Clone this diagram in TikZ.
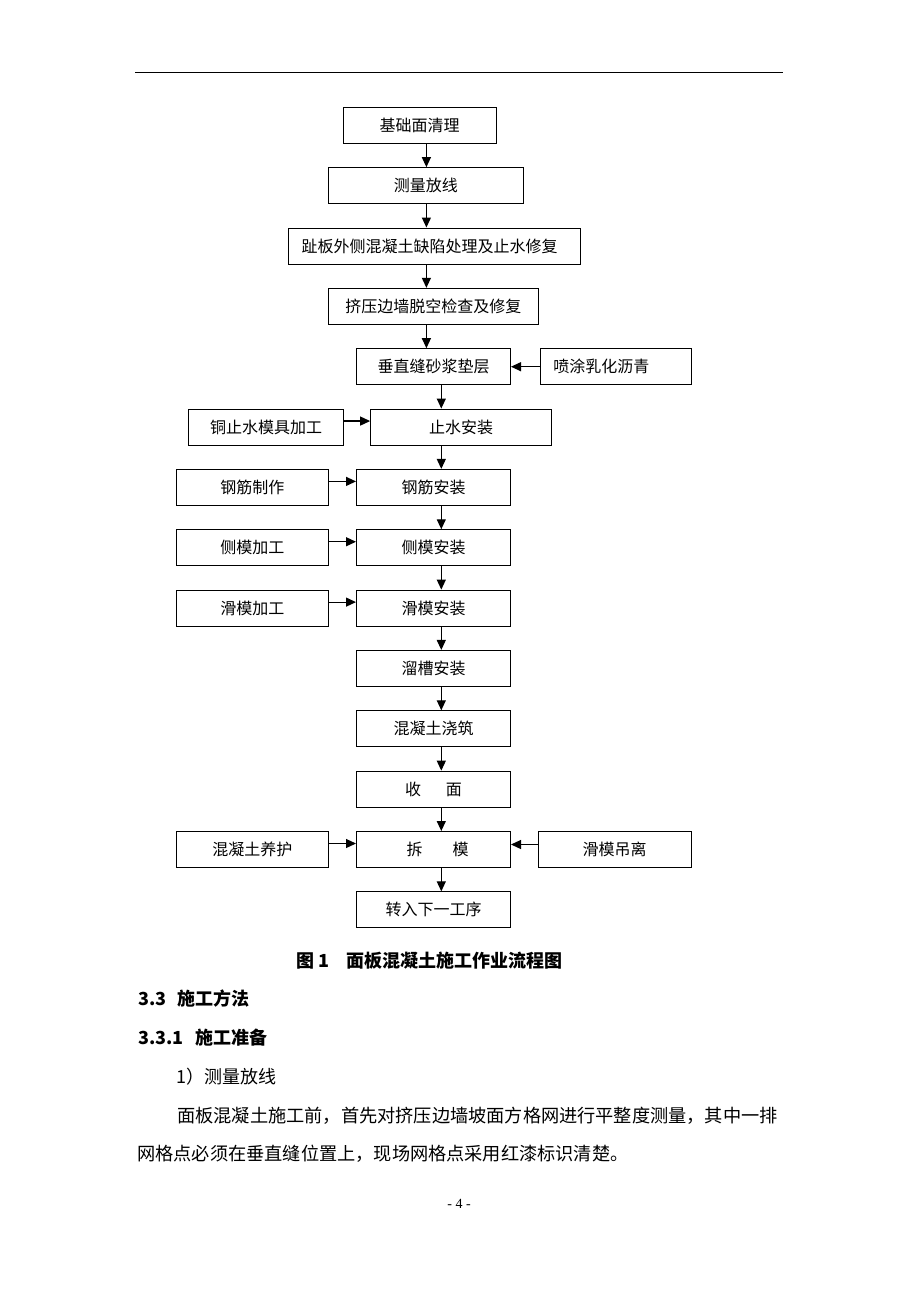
\documentclass[tikz,border=0pt]{standalone}
\usepackage{fontspec}
\setmainfont{Noto Sans CJK SC}
\newfontfamily\pnumfont{Liberation Serif}
\usetikzlibrary{arrows.meta,calc}
\begin{document}
\begin{tikzpicture}[x=1pt,y=-1pt,
  box/.style={draw=black,line width=1pt,minimum height=36pt,inner sep=0pt,font=\fontsize{16}{16}\selectfont,anchor=center},
  arr/.style={line width=1.2pt,-{Triangle[length=10pt,width=9pt]}},
  txt/.style={inner sep=0pt,anchor=west},
  body/.style={txt,font=\fontsize{18}{18}\selectfont},
  head/.style={txt,font=\fontsize{18}{18}\selectfont\bfseries}]
\useasboundingbox (0,0) rectangle (920,1302);
\fill[white] (0,0) rectangle (920,1302);
% header rule
\coordinate (hl) at (135,72.7);
\coordinate (hr) at (783,72.7);
\draw[line width=1.3pt] (hl) -- (hr);
% main column
\node[box,minimum width=153pt]   (b1)  at (419.5,125.3)  {基础面清理};
\node[box,minimum width=195.6pt] (b2)  at (425.8,185.65) {测量放线};
\node[box,minimum width=292pt]   (b3)  at (434,246)      {趾板外侧混凝土缺陷处理及止水修复\hspace*{9pt}};
\node[box,minimum width=210.6pt] (b4)  at (433.3,306.35) {挤压边墙脱空检查及修复};
\node[box,minimum width=154pt]   (b5)  at (433.5,366.7)  {垂直缝砂浆垫层};
\node[box,minimum width=180.7pt] (b6)  at (461,427.05)   {止水安装};
\node[box,minimum width=154pt]   (b7)  at (433.5,487.4)  {钢筋安装};
\node[box,minimum width=154pt]   (b8)  at (433.5,547.75) {侧模安装};
\node[box,minimum width=154pt]   (b9)  at (433.5,608.1)  {滑模安装};
\node[box,minimum width=154pt]   (b10) at (433.5,668.45) {溜槽安装};
\node[box,minimum width=154pt]   (b11) at (433.5,728.8)  {混凝土浇筑};
\node[box,minimum width=154pt]   (b12) at (433.5,789.15) {收\hspace{25pt}面};
\node[box,minimum width=154pt]   (b13) at (433.5,849.5)  {\hspace*{8pt}拆\hspace{30pt}模};
\node[box,minimum width=154pt]   (b14) at (433.5,909.85) {转入下一工序};
% side boxes
\node[box,minimum width=150.6pt,text width=124.6pt,inner xsep=13pt,align=left] (r5) at (615.7,366.7) {喷涂乳化沥青};
\node[box,minimum width=154.4pt] (l6)  at (266.1,427.05)  {铜止水模具加工};
\node[box,minimum width=151.9pt] (l7)  at (252.35,487.4)  {钢筋制作};
\node[box,minimum width=151.9pt] (l8)  at (252.35,547.75) {侧模加工};
\node[box,minimum width=151.9pt] (l9)  at (252.35,608.1)  {滑模加工};
\node[box,minimum width=151.9pt] (l13) at (252.35,849.5)  {混凝土养护};
\node[box,minimum width=152.7pt] (r13) at (614.65,849.5)  {滑模吊离};
% arrow columns
\coordinate (cA) at (426.4,0);
\coordinate (cB) at (441.3,0);
\draw[arr] (b1.south -| cA) -- (b2.north -| cA);
\draw[arr] (b2.south -| cA) -- (b3.north -| cA);
\draw[arr] (b3.south -| cA) -- (b4.north -| cA);
\draw[arr] (b4.south -| cA) -- (b5.north -| cA);
\foreach \a/\b in {b5/b6,b6/b7,b7/b8,b8/b9,b9/b10,b10/b11,b11/b12,b12/b13,b13/b14}
  \draw[arr] (\a.south -| cB) -- (\b.north -| cB);
% side arrows
\draw[arr] (r5.west) -- (b5.east);
\draw[arr] ([yshift=6pt]l6.east) -- ([yshift=6pt]b6.west);
\draw[arr] ([yshift=6pt]l7.east) -- ([yshift=6pt]b7.west);
\draw[arr] ([yshift=6pt]l8.east) -- ([yshift=6pt]b8.west);
\draw[arr] ([yshift=6pt]l9.east) -- ([yshift=6pt]b9.west);
\draw[arr] ([yshift=6pt]l13.east) -- ([yshift=6pt]b13.west);
\draw[arr] ([yshift=5pt]r13.west) -- ([yshift=5pt]b13.east);
% caption and text
\node[head] (cap1) at (296,961) {图 1};
\node[head] (cap2) at (346.7,961) {面板混凝土施工作业流程图};
\node[head] (h1) at (138,998.3) {\makebox[39.7pt][l]{3.3}施工方法};
\node[head] (h2) at (138,1037.7) {\makebox[57.7pt][l]{3.3.1}施工准备};
\node[body] (p0) at (176.7,1076.5) {1）测量放线};
\node[txt,font=\fontsize{18.2}{18}\selectfont] (p1) at (177,1115.5) {面板混凝土施工前，首先对挤压边墙坡面方格网进行平整度测量，其中一排};
\node[txt,font=\fontsize{18.2}{18}\selectfont] (p2) at (137,1153.5) {网格点必须在垂直缝位置上，现场网格点采用红漆标识清楚。};
\node[inner sep=0pt,font=\pnumfont\fontsize{14}{14}\selectfont] (pg) at (459,1204) {- 4 -};
\end{tikzpicture}
\end{document}
